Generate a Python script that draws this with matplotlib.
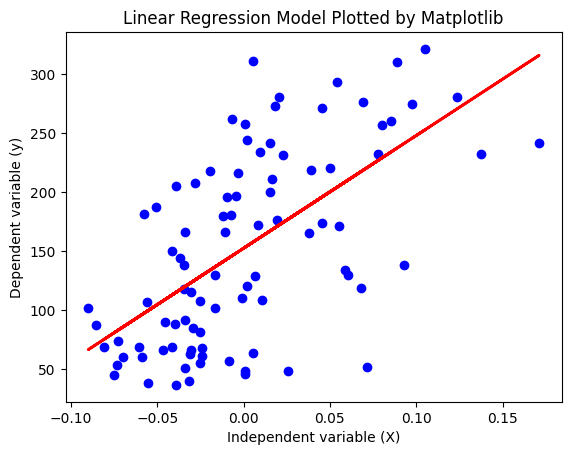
import matplotlib
matplotlib.use("Agg")
import matplotlib.pyplot as plt
import numpy as np

x_values = [
    -0.0065, -0.0192, -0.0279, -0.0389, -0.0035, -0.0095, -0.0046, -0.0505, -0.0574, -0.0119, -0.0072,
    0.0055, 0.0888, 0.0541, 0.0207, 0.0184, 0.0456, 0.0692, 0.0009, 0.0022, 0.0155, 0.0095, 0.0230,
    0.0802, 0.0856, 0.0780, 0.0167, 0.0391, 0.0501, 0.0153, 0.0086, 0.0196, 0.0456, 0.0554, 0.0381,
    0.1052, 0.0977, 0.1237, 0.1376, 0.1712,
    -0.0337, -0.0105, -0.0412, -0.0366, -0.0343, -0.0163, -0.0346, -0.0302, -0.0250, -0.0163, -0.0562,
    -0.0900, -0.0852, -0.0453, -0.0400, -0.0337, -0.0292, -0.0250, -0.0726, -0.0809, -0.0603, -0.0466,
    -0.0412, -0.0302, -0.0238, -0.0311, -0.0238, -0.0701, -0.0586, -0.0250, -0.0087, -0.0736, -0.0337,
    -0.0748, -0.0551, -0.0391, -0.0314,
    0.0068, 0.0022, -0.0009, 0.0109, 0.0589, 0.0606, 0.0682, 0.0055, 0.0009, 0.0009, 0.0259, 0.0716,
    0.0931,
]
y_values = [
    262.1, 218.1, 207.9, 205.6, 216.4, 196.0, 196.5, 187.5, 181.9, 180.2, 180.8,
    311.3, 310.4, 293.5, 280.8, 273.1, 271.4, 276.8, 257.9, 244.3, 241.8, 234.2, 231.6,
    257.0, 260.7, 232.5, 211.3, 218.9, 220.8, 200.3, 172.5, 176.5, 174.0, 171.7, 165.5,
    321.4, 274.8, 280.8, 232.5, 241.8,
    166.4, 166.4, 150.3, 144.6, 138.4, 129.9, 118.1, 115.5, 107.9, 101.9, 107.0,
    101.9, 87.2, 90.1, 88.4, 91.8, 85.0, 81.6, 74.0, 68.9, 68.9, 66.4,
    68.9, 66.6, 68.1, 63.0, 61.3, 60.4, 60.4, 55.3, 57.0, 53.6, 51.1,
    45.2, 38.4, 36.7, 40.1,
    129.1, 120.6, 110.4, 108.7, 134.4, 129.6, 118.9, 63.8, 48.8, 45.6, 48.6, 52.2,
    138.4,
]

# fitted model parameters
slope = 955.0
intercept = 152.5

X = np.array(x_values)
y = np.array(y_values)
y_pred = intercept + slope * X

fig = plt.figure(figsize=(6.4, 4.8), dpi=100)
plt.scatter(X, y, color="blue")
plt.plot(X, y_pred, color="red", linewidth=2)
plt.title("Linear Regression Model Plotted by Matplotlib")
plt.xlabel("Independent variable (X)")
plt.ylabel("Dependent variable (y)")
plt.savefig("out.png", bbox_inches="tight")
